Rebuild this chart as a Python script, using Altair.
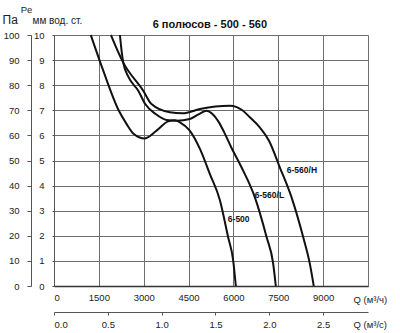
import altair as alt
import pandas as pd

FONT = "Liberation Sans"

series = ["6-500", "6-560/L", "6-560/H"]

q_500 = [1230, 1650, 2170, 2430, 2650, 3040, 3430, 3820, 4050, 4210, 4540, 4880, 5210, 5550, 5820, 5990, 6080]
p_500 = [10.0, 8.57, 6.98, 6.45, 6.08, 5.88, 6.19, 6.56, 6.60, 6.52, 6.19, 5.46, 4.47, 3.41, 1.96, 1.03, 0.0]

q_560l = [2205, 2260, 2316, 2480, 2818, 3050, 3400, 3765, 4100, 4544, 4850, 5100, 5300, 5500, 5700, 5914, 6270, 6715, 7106, 7328, 7417]
p_560l = [10.0, 9.37, 8.9, 8.35, 7.78, 7.25, 6.85, 6.61, 6.58, 6.65, 6.85, 6.98, 6.85, 6.55, 6.1, 5.56, 4.73, 3.54, 1.96, 0.9, 0.0]

q_560h = [1904, 2316, 2985, 3260, 3876, 4300, 4878, 5400, 5880, 6300, 6548, 6880, 7190, 7550, 7941, 8330, 8553, 8686]
p_560h = [10.0, 8.9, 7.78, 7.25, 6.92, 6.88, 7.05, 7.15, 7.18, 7.0, 6.72, 6.32, 5.79, 4.73, 3.54, 1.96, 0.9, 0.0]

label_q = [5813, 6715, 7785]
label_p = [2.66, 3.62, 4.64]

title_text = "6 полюсов - 500 - 560"

x_ticks_h = [0, 1500, 3000, 4500, 6000, 7500, 9000, 10500]
x_ticks_s = [0.0, 0.5, 1.0, 1.5, 2.0, 2.5]
y_ticks_mm = list(range(0, 11))
y_ticks_pa = list(range(0, 101, 10))

rows = []
for name, qs, ps in [(series[0], q_500, p_500), (series[1], q_560l, p_560l), (series[2], q_560h, p_560h)]:
    for q, p in zip(qs, ps):
        rows.append({"series": name, "Q": q, "P": p})
curves = pd.DataFrame(rows)
labels = pd.DataFrame({"series": series, "Q": label_q, "P": label_p})
annot = pd.DataFrame({"t": ["Pe", title_text], "Q": [-919, 5212], "P": [10.98, 10.28],
                      "kind": ["pe", "title"]})
dummy = pd.DataFrame({"Qs": [0, 10500 / 3600], "Pa": [0, 100]})

xs = alt.Scale(domain=[0, 10500], nice=False, zero=False)
ys = alt.Scale(domain=[0, 10], nice=False, zero=False)

x_axis = alt.Axis(
    values=x_ticks_h, format="d", grid=True, gridColor="#6e6e6e", gridWidth=1, gridOpacity=1,
    ticks=False, domain=True, domainColor="#333", domainWidth=1.5,
    labelPadding=6, labelFontSize=9.5, labelColor="#222", labelFont=FONT,
    labelOverlap=False, labelExpr="datum.value == 10500 ? '' : datum.label",
    title="Q (м³/ч)", titleX=299, titleY=13, titleAlign="left", titleBaseline="middle",
    titleFontSize=9.5, titleFontWeight="normal", titleColor="#222", titleFont=FONT,
)
y_axis = alt.Axis(
    values=y_ticks_mm, grid=True, gridColor="#6e6e6e", gridWidth=1, gridOpacity=1,
    labelOverlap=False,
    ticks=True, tickSize=2, tickColor="#555", domain=True, domainColor="#555",
    labelPadding=8, labelFontSize=9.5, labelColor="#222", labelFont=FONT,
    title="мм вод. ст.", titleAngle=0, titleX=-22, titleY=-12, titleAlign="left",
    titleBaseline="alphabetic", titleFontSize=10, titleFontWeight="normal",
    titleColor="#222", titleFont=FONT,
)

lines = alt.Chart(curves).mark_line(
    color="#111", strokeWidth=2, interpolate="monotone"
).encode(
    x=alt.X("Q:Q", scale=xs, axis=x_axis),
    y=alt.Y("P:Q", scale=ys, axis=y_axis),
    detail="series:N",
)

texts = alt.Chart(labels).mark_text(
    align="left", baseline="middle", font=FONT, fontSize=8.5, fontWeight="bold", color="#111"
).encode(
    x=alt.X("Q:Q", scale=xs, axis=x_axis),
    y=alt.Y("P:Q", scale=ys, axis=y_axis),
    text="series:N",
)

pe_text = alt.Chart(annot).transform_filter("datum.kind == 'pe'").mark_text(
    align="center", baseline="middle", font=FONT, fontSize=9.5, color="#222"
).encode(
    x=alt.X("Q:Q", scale=xs, axis=x_axis),
    y=alt.Y("P:Q", scale=ys, axis=y_axis),
    text="t:N",
)

title_mark = alt.Chart(annot).transform_filter("datum.kind == 'title'").mark_text(
    align="center", baseline="alphabetic", font=FONT, fontSize=11, fontWeight="bold", color="#111"
).encode(
    x=alt.X("Q:Q", scale=xs, axis=x_axis),
    y=alt.Y("P:Q", scale=ys, axis=y_axis),
    text="t:N",
)

main = alt.layer(lines, texts, pe_text, title_mark)

second = alt.Chart(dummy).mark_point(opacity=0).encode(
    x=alt.X("Qs:Q", scale=alt.Scale(domain=[0, 10500 / 3600], nice=False, zero=False),
            axis=alt.Axis(orient="bottom", offset=26, values=x_ticks_s, format=".1f",
                          grid=False, ticks=True, tickSize=3, tickColor="#555",
                          domain=True, domainColor="#555", labelPadding=4,
                          labelFontSize=9.5, labelColor="#222", labelFont=FONT,
                          labelOverlap=False,
                          title="Q (м³/с)", titleX=299, titleY=12, titleAlign="left",
                          titleBaseline="middle", titleFontSize=9.5, titleFontWeight="normal",
                          titleColor="#222", titleFont=FONT)),
    y=alt.Y("Pa:Q", scale=alt.Scale(domain=[0, 100], nice=False, zero=False),
            axis=alt.Axis(orient="left", offset=23, values=y_ticks_pa, grid=False,
                          labelOverlap=False,
                          ticks=True, tickSize=4, tickColor="#555", domain=True,
                          domainColor="#555", labelPadding=8, labelFontSize=9.5,
                          labelColor="#222", labelFont=FONT,
                          title="Па", titleAngle=0, titleX=-29, titleY=-12,
                          titleAlign="left", titleBaseline="alphabetic", titleFontSize=12,
                          titleFontWeight="normal", titleColor="#222", titleFont=FONT)),
)

chart = alt.layer(main, second).resolve_scale(
    x="independent", y="independent"
).properties(
    width=314, height=251,
    autosize=alt.AutoSizeParams(type="none"),
    padding={"left": 54, "top": 35, "right": 32, "bottom": 47},
).configure_view(stroke="#666", strokeWidth=1).configure(background="white")

chart.save("out.html", embed_options={"renderer": "svg", "actions": False})
